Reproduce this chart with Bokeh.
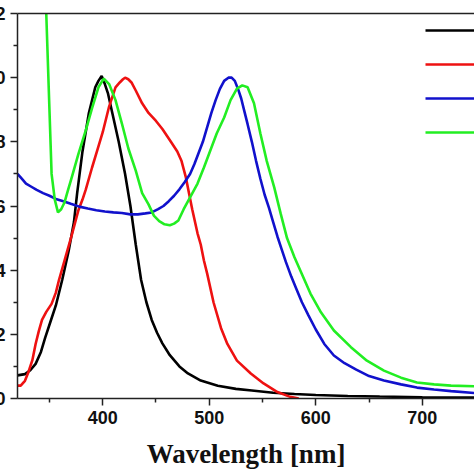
from bokeh.plotting import figure
from bokeh.models import Range1d, FixedTicker, NumeralTickFormatter, LinearAxis, Legend, LegendItem
from bokeh.embed import file_html
from bokeh.resources import INLINE

# ---------------- data ----------------
black_wl = [320, 327, 332, 337, 342, 346, 351, 356, 362, 368, 373, 376, 381, 387, 393, 396, 399, 402, 405, 409,
            415, 421, 426, 431, 436, 441, 446, 451, 456, 463, 472, 480, 492, 508, 525, 540, 560, 580, 600, 630,
            660, 700, 750]
black_val = [0.072, 0.076, 0.088, 0.108, 0.145, 0.19, 0.24, 0.29, 0.37, 0.46, 0.55, 0.64, 0.77, 0.89, 0.97, 0.99,
             1.005, 0.98, 0.95, 0.89, 0.80, 0.70, 0.60, 0.48, 0.37, 0.30, 0.245, 0.205, 0.172, 0.135, 0.10, 0.078,
             0.056, 0.04, 0.03, 0.025, 0.018, 0.014, 0.011, 0.008, 0.006, 0.004, 0.003]

red_wl = [320, 323, 327, 330, 334, 337, 340, 343, 347, 352, 356, 359, 365, 371, 377, 381, 384, 390, 395, 400,
          406, 412, 416, 419, 421, 424, 427, 431, 437, 443, 450, 456, 464, 470, 474, 478, 481, 484, 489, 492,
          495, 498, 504, 511, 517, 526, 539, 551, 564, 576, 584]
red_val = [0.04, 0.04, 0.055, 0.08, 0.12, 0.17, 0.21, 0.245, 0.27, 0.295, 0.33, 0.37, 0.44, 0.51, 0.585, 0.62,
           0.65, 0.72, 0.775, 0.83, 0.91, 0.97, 0.985, 0.995, 1.0, 0.995, 0.985, 0.96, 0.92, 0.89, 0.865, 0.84,
           0.80, 0.77, 0.74, 0.69, 0.64, 0.59, 0.515, 0.48, 0.43, 0.39, 0.30, 0.22, 0.17, 0.118, 0.078, 0.047,
           0.02, 0.005, 0.0]

blue_wl = [320, 324, 328, 333, 338, 344, 350, 356, 363, 370, 378, 386, 394, 402, 410, 418, 426, 433, 440, 446,
           452, 457, 462, 467, 472, 477, 482, 486, 490, 494, 498, 502, 506, 510, 514, 518, 521, 524, 527, 530,
           533, 536, 540, 544, 548, 552, 556, 560, 564, 568, 572, 577, 582, 587, 593, 600, 608, 617, 627, 638,
           650, 664, 680, 695, 711, 727, 749]
blue_val = [0.70, 0.685, 0.67, 0.66, 0.65, 0.64, 0.632, 0.622, 0.615, 0.607, 0.598, 0.592, 0.587, 0.583, 0.58,
            0.578, 0.574, 0.574, 0.577, 0.58, 0.59, 0.60, 0.615, 0.632, 0.652, 0.675, 0.70, 0.73, 0.765, 0.80,
            0.845, 0.89, 0.93, 0.965, 0.99, 1.0, 1.0, 0.99, 0.965, 0.935, 0.895, 0.855, 0.80, 0.74, 0.685, 0.635,
            0.595, 0.55, 0.505, 0.465, 0.425, 0.38, 0.34, 0.30, 0.26, 0.215, 0.17, 0.134, 0.11, 0.09, 0.07, 0.056,
            0.044, 0.034, 0.028, 0.023, 0.017]

green_wl = [343, 347, 350, 352, 355, 358, 361, 364, 367, 371, 377, 384, 390, 396, 401, 406, 412, 418, 424, 431,
            437, 443, 448, 453, 458, 463, 467, 471, 476, 482, 489, 495, 501, 507, 514, 520, 526, 531, 536, 542,
            548, 554, 561, 567, 573, 580, 586, 595, 605, 617, 633, 648, 664, 680, 695, 711, 727, 749]
green_val = [1.5, 1.2, 0.9, 0.7, 0.62, 0.58, 0.59, 0.61, 0.645, 0.69, 0.76, 0.835, 0.905, 0.97, 0.997, 0.98,
             0.93, 0.857, 0.78, 0.71, 0.64, 0.605, 0.57, 0.553, 0.543, 0.54, 0.545, 0.555, 0.59, 0.627, 0.67,
             0.72, 0.773, 0.826, 0.876, 0.93, 0.966, 0.976, 0.97, 0.92, 0.826, 0.74, 0.658, 0.577, 0.50, 0.44,
             0.395, 0.327, 0.268, 0.212, 0.16, 0.118, 0.087, 0.065, 0.05, 0.044, 0.04, 0.038]

series_names = ["1", "2", "3", "4"]
series_colors = ["#000000", "#ee1111", "#1111cc", "#22ee22"]

x_ticks = [400, 500, 600, 700]
x_minor = [350, 450, 550, 650, 750]
y_ticks = [0.0, 0.2, 0.4, 0.6, 0.8, 1.0, 1.2]
y_minor = [0.1, 0.3, 0.5, 0.7, 0.9, 1.1]
x_label = "Wavelength [nm]"

# ---------------- figure ----------------
p = figure(frame_width=457, frame_height=385,
           x_range=Range1d(320, 749), y_range=Range1d(0, 1.2),
           output_backend="svg", toolbar_location=None,
           min_border_left=0, min_border_right=0, min_border_top=13, min_border_bottom=0,
           margin=(0, -12, -12, -23))
p.outline_line_color = None
p.xgrid.visible = False
p.ygrid.visible = False
p.background_fill_color = "white"
p.border_fill_color = "white"

axis_color = "#222222"
tick_font = "Liberation Sans"

xa = p.xaxis[0]
xa.ticker = FixedTicker(ticks=x_ticks, minor_ticks=x_minor)
xa.axis_label = x_label
xa.axis_label_text_font = "Liberation Serif"
xa.axis_label_text_font_style = "bold"
xa.axis_label_text_font_size = "27px"
xa.axis_label_text_color = "#111111"
xa.axis_label_standoff = 12

ya = p.yaxis[0]
ya.ticker = FixedTicker(ticks=y_ticks, minor_ticks=y_minor)
ya.formatter = NumeralTickFormatter(format="0.0")

for ax in (xa, ya):
    ax.axis_line_color = axis_color
    ax.axis_line_width = 1.5
    ax.major_tick_line_color = axis_color
    ax.major_tick_line_width = 1.5
    ax.minor_tick_line_color = axis_color
    ax.minor_tick_line_width = 1.5
    ax.major_tick_in = 0
    ax.major_tick_out = 7
    ax.minor_tick_in = 0
    ax.minor_tick_out = 4
    ax.major_label_standoff = 5
    ax.major_label_text_font = tick_font
    ax.major_label_text_font_style = "bold"
    ax.major_label_text_font_size = "18px"
    ax.major_label_text_color = "#111111"

top = LinearAxis(ticker=FixedTicker(ticks=[]), axis_line_color=axis_color, axis_line_width=1.5,
                 major_tick_out=0, major_tick_in=0, minor_tick_out=0, minor_tick_in=0,
                 major_label_standoff=0, major_label_text_font_size="0px")
p.add_layout(top, "above")

renderers = []
for wl, val, col in zip([black_wl, red_wl, blue_wl, green_wl],
                        [black_val, red_val, blue_val, green_val], series_colors):
    r = p.line(wl, val, line_color=col, line_width=2.6)
    renderers.append(r)

legend = Legend(items=[LegendItem(label=n, renderers=[r]) for n, r in zip(series_names, renderers)],
                location=(408, 256), glyph_width=70, glyph_height=20, label_height=20,
                spacing=14, padding=0, margin=0, border_line_color=None,
                background_fill_alpha=0, label_text_font_size="17px", label_standoff=8)
p.add_layout(legend)

open("out.html", "w").write(file_html(p, INLINE))
